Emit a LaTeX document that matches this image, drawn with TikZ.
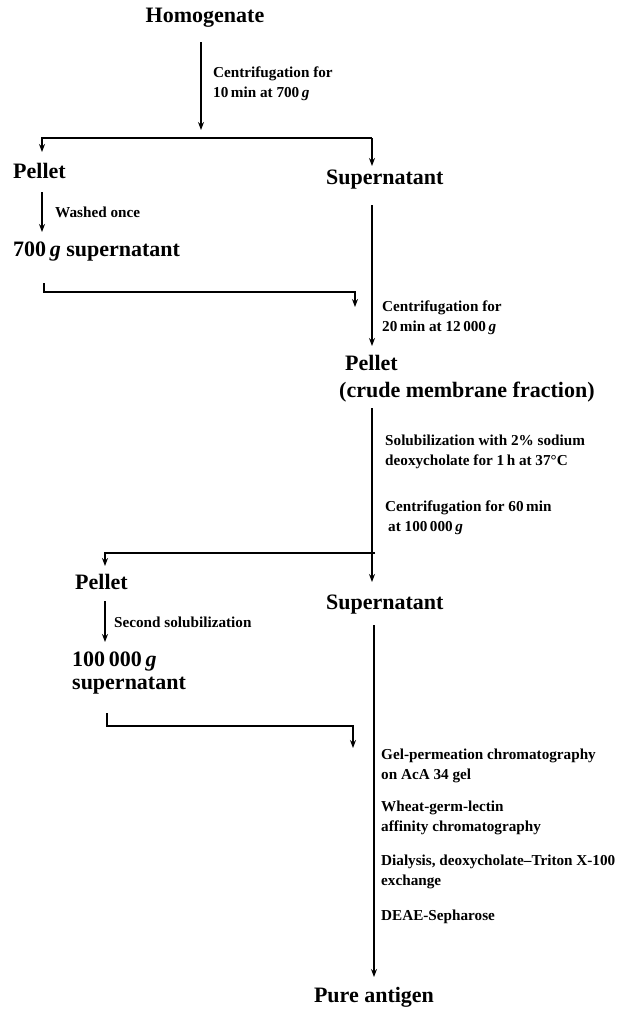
\documentclass[tikz,border=0pt]{standalone}
\usepackage{fontspec}
\setmainfont{Liberation Serif}
\usetikzlibrary{arrows.meta}
\newcommand{\hdfont}{\fontsize{22}{26}\selectfont\bfseries}
\newcommand{\lbfont}{\fontsize{15.2}{19.5}\selectfont\bfseries}
\newcommand{\gfac}{\textbf{\textit{g}}}
\begin{document}
\begin{tikzpicture}[x=1pt,y=-1pt,
  hd/.style={font=\hdfont,inner sep=0pt},
  lb/.style={font=\lbfont,inner sep=0pt,align=left,anchor=west},
  arr/.style={line width=1.3pt,-{Stealth[length=8pt,width=6pt]}}]
\useasboundingbox (0,0) rectangle (637,1010);
% nodes
\node[hd] (homog) at (205,18) {Homogenate};
\node[lb] (l1) at (213,84) {Centrifugation for\\10\,min at 700\,\gfac};
\node[hd,anchor=west] (pel1) at (13,171) {Pellet};
\node[hd,anchor=west] (sup1) at (326,180) {Supernatant};
\node[lb] (l2) at (55,212) {Washed once};
\node[hd,anchor=west] (s700) at (13,252) {700\,\textit{g} supernatant};
\node[lb] (l3) at (382,318) {Centrifugation for\\20\,min at 12\,000\,\gfac};
\node[hd,anchor=west] (pel2) at (345,363) {Pellet};
\node[hd,anchor=west] (crude) at (339,392) {(crude membrane fraction)};
\node[lb] (l4) at (385,452) {Solubilization with 2\% sodium\\deoxycholate for 1\,h at 37\textdegree C};
\node[lb] (l5) at (385,518) {Centrifugation for 60\,min\\\hspace{3pt}at 100\,000\,\gfac};
\node[hd,anchor=west] (pel3) at (75,582) {Pellet};
\node[hd,anchor=west] (sup2) at (326,605) {Supernatant};
\node[lb] (l6) at (114,622) {Second solubilization};
\node[hd,anchor=west,align=left,font=\fontsize{22}{23}\selectfont\bfseries] (s100) at (72,673) {100\,000\,\textit{g}\\supernatant};
\node[lb] (l7) at (381,766) {Gel-permeation chromatography\\on AcA 34 gel};
\node[lb] (l8) at (381,818) {Wheat-germ-lectin\\affinity chromatography};
\node[lb] (l9) at (381,872) {Dialysis, deoxycholate--Triton X-100\\exchange};
\node[lb] (l10) at (381,917) {DEAE-Sepharose};
\node[hd] (pure) at (374,997) {Pure antigen};
% coordinates
\coordinate (a1s) at (201,42);
\coordinate (a1e) at (201,130);
\coordinate (jl) at (42,138);
\coordinate (jr) at (372,138);
\coordinate (p1t) at (42,152);
\coordinate (s1t) at (372,166);
\coordinate (w1s) at (42,192);
\coordinate (w1e) at (42,232);
\coordinate (m1a) at (44,283);
\coordinate (m1b) at (44,292);
\coordinate (m1c) at (355,292);
\coordinate (m1d) at (355,307);
\coordinate (c2s) at (372,205);
\coordinate (c2e) at (372,346);
\coordinate (c3s) at (372,408);
\coordinate (c3e) at (372,582);
\coordinate (c3r) at (375,553);
\coordinate (c3l) at (105,553);
\coordinate (p3t) at (105,566);
\coordinate (w2s) at (105,601);
\coordinate (w2e) at (105,642);
\coordinate (m2a) at (107,713);
\coordinate (m2b) at (107,726);
\coordinate (m2c) at (353,726);
\coordinate (m2d) at (353,748);
\coordinate (c4s) at (374,625);
\coordinate (c4e) at (374,977);
% connectors
\draw[arr] (a1s) -- (a1e);
\draw[arr] (jr) -- (jl) -- (p1t);
\draw[arr] (jr) -- (s1t);
\draw[arr] (w1s) -- (w1e);
\draw[arr] (m1a) -- (m1b) -- (m1c) -- (m1d);
\draw[arr] (c2s) -- (c2e);
\draw[arr] (c3s) -- (c3e);
\draw[arr] (c3r) -- (c3l) -- (p3t);
\draw[arr] (w2s) -- (w2e);
\draw[arr] (m2a) -- (m2b) -- (m2c) -- (m2d);
\draw[arr] (c4s) -- (c4e);
\end{tikzpicture}
\end{document}
